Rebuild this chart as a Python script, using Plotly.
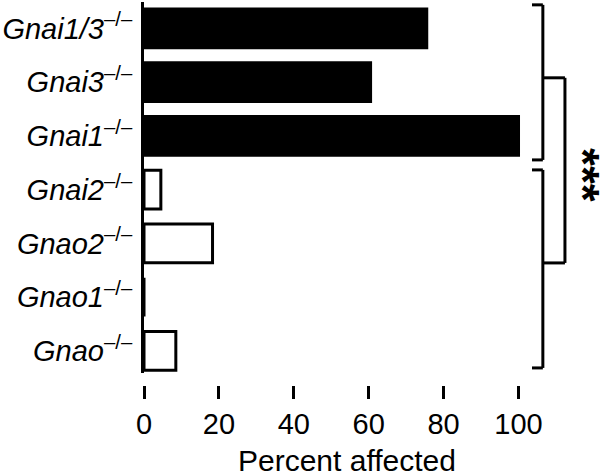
import plotly.graph_objects as go

# Data (bottom to top)
genes = ["Gnao", "Gnao1", "Gnao2", "Gnai2", "Gnai1", "Gnai3", "Gnai1/3"]
percent = [8.5, 0, 18.3, 4.5, 100, 60.5, 75.5]
fills = ["white", "white", "white", "white", "black", "black", "black"]
x_ticks = [0, 20, 40, 60, 80, 100]
x_title = "Percent affected"
sig_label = "***"

labels = [f"<i>{g}</i><sup>–/–</sup>" for g in genes]
idx = list(range(len(genes)))

fig = go.Figure()
fig.add_trace(go.Bar(
    y=idx, x=percent, orientation="h",
    marker=dict(color=fills, line=dict(color="black", width=3)),
    width=0.72, showlegend=False,
))

FONT = "Liberation Sans, Arial, sans-serif"

# brackets (x in data units, y in category-index units)
xa, xb, xc = 103.6, 106.5, 112.4
line = dict(color="black", width=3)
def seg(x0, y0, x1, y1):
    fig.add_shape(type="line", x0=x0, y0=y0, x1=x1, y1=y1, xref="x", yref="y", line=line, layer="above")

top_hi, top_lo = 6.437, 3.553
bot_hi, bot_lo = 3.367, -0.316
seg(xa, top_hi, xb, top_hi); seg(xb, top_hi, xb, top_lo); seg(xa, top_lo, xb, top_lo)
seg(xa, bot_hi, xb, bot_hi); seg(xb, bot_hi, xb, bot_lo); seg(xa, bot_lo, xb, bot_lo)
c_hi, c_lo = 5.08, 1.637
seg(xb, c_hi, xc, c_hi); seg(xc, c_hi, xc, c_lo); seg(xb, c_lo, xc, c_lo)

fig.add_annotation(x=117.2, y=3.274, xref="x", yref="y", text=f"<b>{sig_label}</b>", showarrow=False,
                   textangle=90, font=dict(family=FONT, size=46, color="black"))

# x axis title
fig.add_annotation(x=54.2, y=0.0, xref="x", yref="paper", yanchor="middle", text=x_title,
                   showarrow=False, yshift=4, font=dict(family=FONT, size=30, color="black"))

fig.update_layout(
    width=600, height=474,
    margin=dict(l=144, r=0, t=2, b=10),
    paper_bgcolor="white", plot_bgcolor="white",
    font=dict(family=FONT, color="black"),
    bargap=0.28,
    xaxis=dict(range=[0, 121.76], tickvals=x_ticks, ticktext=[str(v) for v in x_ticks],
               showgrid=False, zeroline=False, showline=False,
               ticks="outside", ticklen=13, tickwidth=2.5, tickcolor="black",
               anchor="free", position=0.171,
               tickfont=dict(size=29, family=FONT),
               automargin=False),
    yaxis=dict(range=[-0.41, 6.49], tickvals=idx, ticktext=labels, domain=[0.197, 1],
               showgrid=False, zeroline=False, showline=True, linecolor="black", linewidth=3,
               ticks="", ticklabelstandoff=3,
               tickfont=dict(size=29, family=FONT), automargin=False),
)

fig.write_html("out.html", config={"displayModeBar": False},
               post_script="document.body.style.margin='0';")
